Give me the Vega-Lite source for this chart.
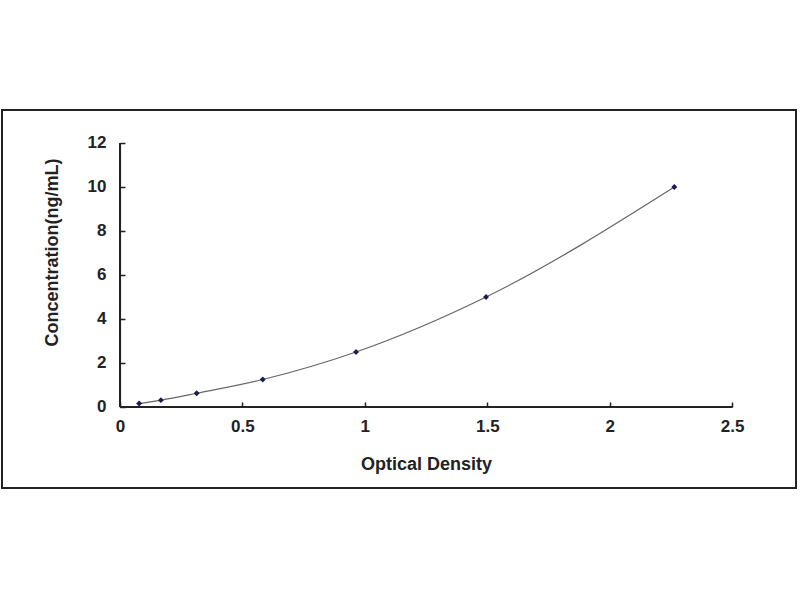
{
  "$schema": "https://vega.github.io/schema/vega-lite/v6.json",
  "description": "ELISA standard curve: concentration vs optical density",
  "autosize": "none",
  "width": 794,
  "height": 378,
  "padding": {"left": 2, "top": 110, "right": 4, "bottom": 112},
  "background": "white",
  "config": {
    "view": {"stroke": "#222", "strokeWidth": 2},
    "font": "Liberation Sans",
    "axis": {
      "grid": false,
      "domain": false,
      "labelFont": "Liberation Sans",
      "labelFontSize": 17,
      "labelFontWeight": "bold",
      "labelColor": "#222",
      "titleFont": "Liberation Sans",
      "titleFontSize": 18,
      "titleFontWeight": "bold",
      "titleColor": "#222",
      "tickColor": "#222",
      "tickWidth": 1.5,
      "tickSize": -5
    }
  },
  "data": {
    "values": [
      {"od": 0.078, "conc": 0.156},
      {"od": 0.167, "conc": 0.312},
      {"od": 0.313, "conc": 0.625},
      {"od": 0.583, "conc": 1.25},
      {"od": 0.964, "conc": 2.5},
      {"od": 1.495, "conc": 5},
      {"od": 2.264, "conc": 10}
    ]
  },
  "encoding": {
    "x": {
      "field": "od",
      "type": "quantitative",
      "scale": {"domain": [-0.482, 2.761], "nice": false, "zero": false},
      "axis": {
        "title": "Optical Density",
        "values": [0, 0.5, 1, 1.5, 2, 2.5],
        "format": "~g",
        "offset": -81,
        "labelPadding": 16,
        "titleX": 424,
        "titleY": 57,
        "titleBaseline": "middle"
      }
    },
    "y": {
      "field": "conc",
      "type": "quantitative",
      "scale": {"domain": [-3.682, 13.5], "nice": false, "zero": false},
      "axis": {
        "title": "Concentration(ng/mL)",
        "values": [0, 2, 4, 6, 8, 10, 12],
        "offset": -118,
        "labelPadding": 19,
        "titleX": -68,
        "titleY": 142,
        "titleAlign": "center",
        "titleBaseline": "middle"
      }
    }
  },
  "layer": [
    {
      "mark": {"type": "rule", "color": "#222", "strokeWidth": 2},
      "encoding": {
        "x": {"datum": 0},
        "y": {"datum": 0},
        "y2": {"datum": 12}
      }
    },
    {
      "mark": {"type": "rule", "color": "#222", "strokeWidth": 2},
      "encoding": {
        "x": {"datum": 0},
        "x2": {"datum": 2.5},
        "y": {"datum": 0}
      }
    },
    {
      "mark": {"type": "line", "interpolate": "monotone", "color": "#666", "strokeWidth": 1.2}
    },
    {
      "mark": {"type": "point", "shape": "diamond", "filled": true, "size": 35, "color": "#1c1c50", "opacity": 1}
    }
  ]
}
